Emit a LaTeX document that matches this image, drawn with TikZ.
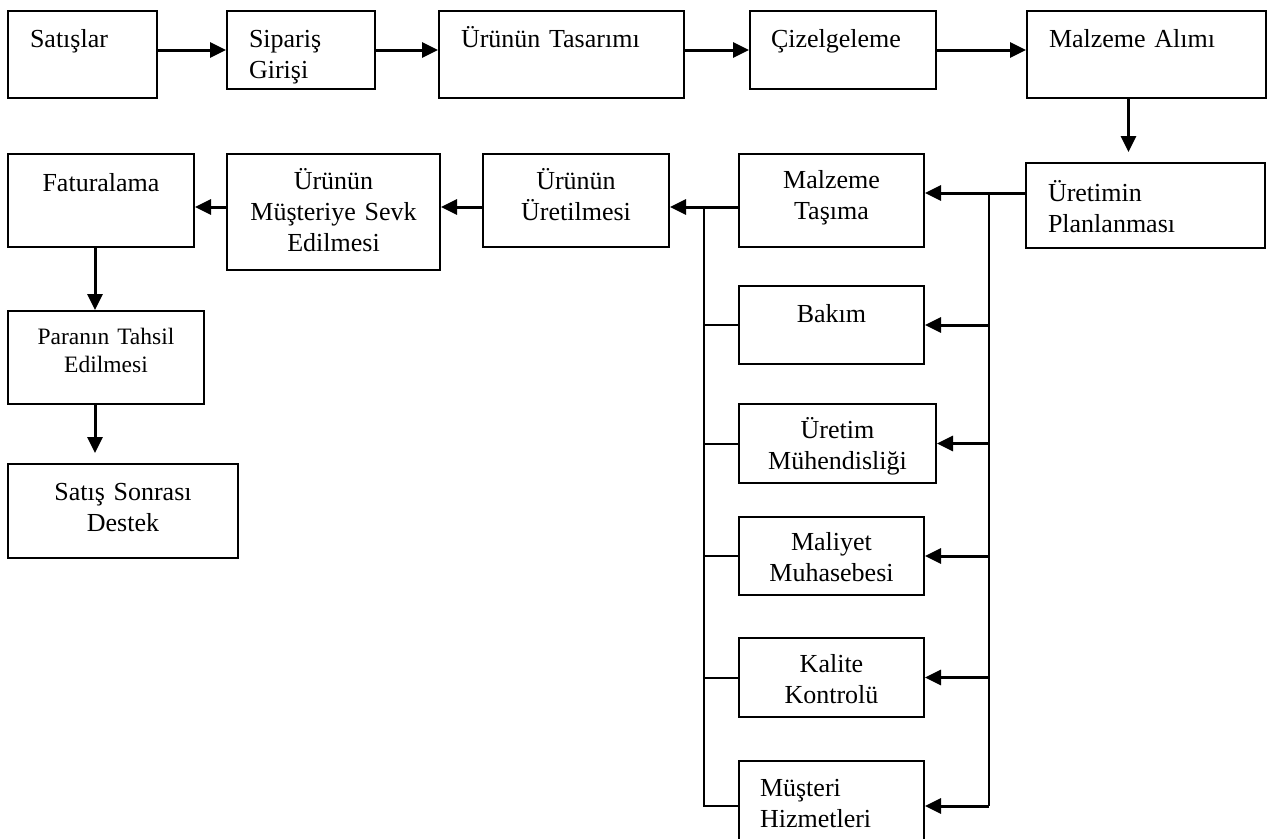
\documentclass[tikz,border=0pt]{standalone}
\usepackage{fontspec}
\setmainfont{Liberation Serif}
\usetikzlibrary{arrows.meta}

\begin{document}
\begin{tikzpicture}[x=1pt, y=-1pt,
    process/.style={draw, line width=2pt, anchor=north west, inner ysep=0pt,
      inner xsep=8pt, align=center, font=\fontsize{26}{31}\selectfont},
    boxdim/.style n args={3}{text width=#1, text height=#2, text depth=#3},
    arr/.style={line width=3pt, -{Triangle[length=16pt, width=15pt]}},
    bus/.style={line width=2pt}]
   \useasboundingbox (0,0) rectangle (1273,838);
   \clip (0,0) rectangle (1273,838);

   % top row
   \node[process, align=left, inner xsep=22pt, boxdim={105pt}{36pt}{51pt}] (sat) at (7,10) {Satışlar};
   \node[process, align=left, inner xsep=22pt, boxdim={104pt}{36pt}{42pt}] (sip) at (226,10) {Sipariş\\Girişi};
   \node[process, align=left, inner xsep=22pt, boxdim={201pt}{36pt}{51pt}] (tas) at (438,10) {Ürünün Tasarımı};
   \node[process, align=left, inner xsep=21pt, boxdim={144pt}{36pt}{42pt}] (ciz) at (749,10) {Çizelgeleme};
   \node[process, align=left, inner xsep=22pt, boxdim={195pt}{36pt}{51pt}] (alim) at (1026,10) {Malzeme Alımı};
   \node[process, align=left, inner xsep=22pt, boxdim={195pt}{38pt}{47pt}] (plan) at (1025,162) {Üretimin\\Planlanması};

   % second row
   \node[process, boxdim={169pt}{34pt}{59pt}] (tasima) at (738,153) {Malzeme\\Taşıma};
   \node[process, boxdim={170pt}{35pt}{58pt}] (uret) at (482,153) {Ürünün\\Üretilmesi};
   \node[process, boxdim={197pt}{35pt}{81pt}] (sevk) at (226,153) {Ürünün\\Müşteriye Sevk\\Edilmesi};
   \node[process, boxdim={170pt}{37pt}{56pt}] (fat) at (7,153) {Faturalama};

   % left column
   \node[process, font=\fontsize{23.5}{28}\selectfont, boxdim={180pt}{33pt}{60pt}] (para) at (7,310) {Paranın Tahsil\\Edilmesi};
   \node[process, boxdim={214pt}{36pt}{58pt}] (destek) at (7,463) {Satış Sonrası\\Destek};

   % support units
   \node[process, boxdim={169pt}{36pt}{42pt}] (bakim) at (738,285) {Bakım};
   \node[process, boxdim={181pt}{34pt}{45pt}] (muh) at (738,403) {Üretim\\Mühendisliği};
   \node[process, boxdim={169pt}{33pt}{45pt}] (mal) at (738,516) {Maliyet\\Muhasebesi};
   \node[process, boxdim={169pt}{34pt}{45pt}] (kal) at (738,637) {Kalite\\Kontrolü};
   \node[process, align=left, inner xsep=21pt, boxdim={143pt}{35pt}{55pt}] (mus) at (738,760) {Müşteri\\Hizmetleri};

   \coordinate (rtop) at (989,193);
   \coordinate (lbus) at (704,207);

   \draw[arr] (sat.east |- sip.west) -- (sip.west);
   \draw[arr] (sip.east) -- (sip.east -| tas.west);
   \draw[arr] (tas.east |- ciz.west) -- (ciz.west);
   \draw[arr] (ciz.east) -- (ciz.east -| alim.west);
   \draw[arr, shorten >=10pt] ([xshift=-18pt]alim.south) -- ([xshift=-18pt]alim.south |- plan.north);

   \draw[arr] (plan.west |- rtop) -- (tasima.east |- rtop);
   \draw[bus] (rtop) -- (rtop |- mus.east);
   \foreach \n in {bakim,muh,mal,kal,mus}
     \draw[arr] (rtop |- \n.east) -- (\n.east);

   \draw[arr] (tasima.west |- lbus) -- (uret.east |- lbus);
   \draw[bus] (lbus) |- (mus.west);
   \foreach \n in {bakim,muh,mal,kal}
     \draw[bus] (lbus |- \n.west) -- (\n.west);

   \draw[arr] (uret.west |- lbus) -- (sevk.east |- lbus);
   \draw[arr] (sevk.west |- lbus) -- (fat.east |- lbus);
   \draw[arr] ([xshift=-6pt]fat.south) -- ([xshift=-6pt]fat.south |- para.north);
   \draw[arr, shorten >=10pt] ([xshift=-11pt]para.south) -- ([xshift=-11pt]para.south |- destek.north);
\end{tikzpicture}
\end{document}
